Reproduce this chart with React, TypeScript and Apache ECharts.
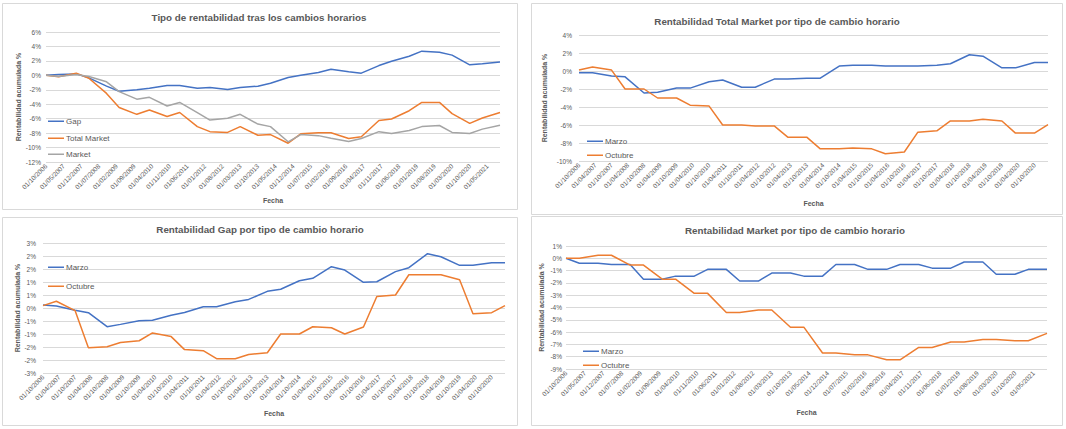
import React, { useEffect, useRef } from "react";
import * as echarts from "echarts";

// ---------- data ----------
const datesLong = [
  "2006-10", "2007-03", "2007-10", "2008-03", "2008-10", "2009-03", "2009-10", "2010-03",
  "2010-10", "2011-03", "2011-10", "2012-03", "2012-10", "2013-03", "2013-10", "2014-03",
  "2014-10", "2015-03", "2015-10", "2016-03", "2016-10", "2017-03", "2017-10", "2018-03",
  "2018-10", "2019-03", "2019-10", "2020-03", "2020-10", "2021-03", "2021-10",
];
const datesShort = [
  "2006-10", "2007-03", "2007-10", "2008-03", "2008-10", "2009-03", "2009-10", "2010-03",
  "2010-10", "2011-03", "2011-10", "2012-03", "2012-10", "2013-03", "2013-10", "2014-03",
  "2014-10", "2015-03", "2015-10", "2016-03", "2016-10", "2017-03", "2017-10", "2018-03",
  "2018-10", "2019-03", "2019-10", "2020-03", "2020-10", "2021-03",
];

// Chart 1: Tipo de rentabilidad tras los cambios horarios
const gapAll = [0, 0.1, 0.2, -0.35, -1.5, -2.2, -2.0, -1.8, -1.4, -1.4, -1.8, -1.7, -1.95, -1.7, -1.5, -1.1, -0.3, 0, 0.4, 0.85, 0.5, 0.3, 1.35, 1.95, 2.65, 3.35, 3.2, 2.8, 1.45, 1.6, 1.85];
const totalAll = [0, -0.2, 0.3, -0.4, -2.5, -4.45, -5.4, -4.8, -5.7, -5.15, -7.1, -7.8, -7.9, -7.1, -8.3, -8.2, -9.4, -8.1, -7.95, -7.95, -8.75, -8.5, -6.25, -6.05, -4.9, -3.75, -3.75, -5.3, -6.65, -5.9, -5.15];
const marketAll = [0, -0.15, 0.1, -0.15, -0.9, -2.25, -3.3, -3.05, -4.25, -3.75, -5.15, -6.2, -5.95, -5.4, -6.75, -7.1, -9.2, -8.2, -8.35, -8.7, -9.15, -8.75, -7.8, -8.05, -7.65, -7.1, -6.95, -7.9, -8.05, -7.45, -6.9];

// Chart 2: Total Market por tipo de cambio
const tmMarzo = [-0.2, -0.2, -0.55, -0.65, -2.45, -2.35, -1.9, -1.9, -1.2, -1.0, -1.8, -1.8, -0.9, -0.9, -0.8, -0.8, 0.55, 0.65, 0.65, 0.55, 0.55, 0.55, 0.65, 0.8, 1.8, 1.65, 0.35, 0.35, 0.95, 0.95];
const tmOctubre = [0.1, 0.45, 0.1, -2.0, -2.0, -3.0, -3.0, -3.8, -3.9, -6.0, -6.0, -6.1, -6.1, -7.35, -7.35, -8.65, -8.65, -8.55, -8.65, -9.2, -9.0, -6.8, -6.65, -5.55, -5.55, -5.35, -5.55, -6.9, -6.9, -5.95];

// Chart 3: Gap por tipo de cambio
const gapMarzo = [0.12, 0.08, -0.09, -0.18, -0.72, -0.63, -0.49, -0.47, -0.28, -0.17, 0.05, 0.05, 0.24, 0.33, 0.64, 0.72, 1.05, 1.14, 1.59, 1.46, 0.99, 1.01, 1.4, 1.55, 2.09, 1.97, 1.64, 1.64, 1.74, 1.74];
const gapOctubre = [0.09, 0.26, -0.1, -1.53, -1.49, -1.33, -1.26, -0.96, -1.1, -1.6, -1.64, -1.95, -1.95, -1.79, -1.72, -1.0, -1.0, -0.72, -0.76, -1.0, -0.73, 0.44, 0.5, 1.28, 1.28, 1.28, 1.09, -0.22, -0.18, 0.09];

// Chart 4: Market por tipo de cambio
const mkMarzo = [0, -0.4, -0.4, -0.5, -0.5, -1.7, -1.7, -1.45, -1.45, -0.9, -0.9, -1.85, -1.85, -1.2, -1.2, -1.45, -1.45, -0.5, -0.5, -0.9, -0.9, -0.5, -0.5, -0.8, -0.8, -0.3, -0.3, -1.3, -1.3, -0.9, -0.9];
const mkOctubre = [0, 0, 0.25, 0.25, -0.55, -0.55, -1.7, -1.7, -2.85, -2.85, -4.4, -4.4, -4.2, -4.2, -5.6, -5.6, -7.7, -7.7, -7.85, -7.85, -8.25, -8.25, -7.25, -7.25, -6.8, -6.8, -6.6, -6.6, -6.7, -6.7, -6.1];

const titles = [
  "Tipo de rentabilidad tras los cambios horarios",
  "Rentabilidad Total Market por tipo de cambio horario",
  "Rentabilidad Gap por tipo de cambio horario",
  "Rentabilidad Market por tipo de cambio horario",
];
const yAxisName = "Rentabilidad acumulada %";
const xAxisName = "Fecha";

// ---------- helpers ----------
const FONT = '"Liberation Sans", Arial, sans-serif';
const TXT = "#595959";
const GRID = "#d9d9d9";
const BLUE = "#4472C4";
const ORANGE = "#ED7D31";
const GRAY = "#A5A5A5";

function monthIndex(d: string) {
  const [y, m] = d.split("-").map(Number);
  return (y - 2006) * 12 + (m - 10);
}
function pts(dates: string[], vals: number[]) {
  return vals.map((v, i) => [monthIndex(dates[i]), v]);
}
function dateLabel(v: number, step: number) {
  if (Math.abs(v % step) > 1e-6) return "";
  const t = 2006 * 12 + 9 + Math.round(v);
  const y = Math.floor(t / 12);
  const m = (t % 12) + 1;
  return "01/" + (m < 10 ? "0" : "") + m + "/" + y;
}
function pctInt(v: number) {
  return Math.round(v) + "%";
}
function pctRoundAway(v: number) {
  const r = Math.sign(v) * Math.round(Math.abs(v) + 1e-9);
  return (r === 0 ? 0 : r) + "%";
}

function xAx(gridIndex: number, max: number, interval: number, nameGap: number) {
  return {
    type: "value",
    gridIndex,
    min: 0,
    max,
    interval,
    axisLine: { show: false },
    axisTick: { show: false },
    splitLine: { show: false },
    axisLabel: {
      rotate: 45,
      fontSize: 6.5,
      color: TXT,
      fontFamily: FONT,
      margin: 3,
      formatter: (v: number) => dateLabel(v, interval),
    },
    name: xAxisName,
    nameLocation: "middle",
    nameGap,
    nameTextStyle: { fontWeight: "bold", fontSize: 7, color: TXT, fontFamily: FONT },
  };
}
function yAx(gridIndex: number, min: number, max: number, interval: number, margin: number, nameGap: number, fmt: (v: number) => string) {
  return {
    type: "value",
    gridIndex,
    min,
    max,
    interval,
    axisLine: { show: false },
    axisTick: { show: false },
    splitLine: { lineStyle: { color: GRID, width: 1 } },
    axisLabel: { fontSize: 6.5, color: TXT, fontFamily: FONT, margin, formatter: fmt },
    name: yAxisName,
    nameLocation: "middle",
    nameRotate: 90,
    nameGap,
    nameTextStyle: { fontWeight: "bold", fontSize: 7, color: TXT, fontFamily: FONT },
  };
}
function line(name: string, idx: number, data: number[][], color: string) {
  return {
    type: "line",
    name,
    xAxisIndex: idx,
    yAxisIndex: idx,
    data,
    symbol: "none",
    lineStyle: { color, width: 1.5 },
    itemStyle: { color },
  };
}
function leg(name: string, color: string, left: number, yc: number) {
  return {
    data: [{ name, icon: "rect", itemStyle: { color } }],
    left,
    top: yc - 0.75,
    padding: 0,
    itemWidth: 16,
    itemHeight: 1.5,
    selectedMode: false,
    textStyle: { fontSize: 8, color: TXT, fontFamily: FONT, padding: [0, 0, 0, -3] },
  };
}
function panel(x: number, y: number, w: number, h: number) {
  return {
    type: "rect",
    z: -10,
    silent: true,
    shape: { x: x + 0.5, y: y + 0.5, width: w, height: h },
    style: { fill: "none", stroke: GRID, lineWidth: 1 },
  };
}
function titleText(text: string, x: number, y: number) {
  return {
    type: "text",
    x,
    y,
    style: {
      text,
      fill: TXT,
      font: 'bold 9.8px "Liberation Sans", Arial, sans-serif',
      align: "center",
      verticalAlign: "middle",
      textAlign: "center",
      textVerticalAlign: "middle",
    },
  };
}

export default function App() {
  const ref = useRef<HTMLDivElement>(null);
  useEffect(() => {
    if (!ref.current) return;
    const chart = echarts.init(ref.current, undefined, { renderer: "svg" });
    const option: any = {
      animation: false,
      backgroundColor: "#ffffff",
      textStyle: { fontFamily: FONT },
      graphic: [
        panel(2, 3, 515, 206),
        panel(531, 3, 531, 211),
        panel(2, 217, 515, 208),
        panel(531, 216, 531, 209),
        titleText(titles[0], 259, 17),
        titleText(titles[1], 777, 21),
        titleText(titles[2], 260, 229),
        titleText(titles[3], 795, 230),
      ],
      grid: [
        { left: 46, top: 32, width: 454, height: 130 },
        { left: 579, top: 35, width: 469, height: 126 },
        { left: 43, top: 243, width: 462, height: 130 },
        { left: 566, top: 246, width: 481, height: 123 },
      ],
      xAxis: [
        xAx(0, 180, 7, 35),
        xAx(1, 173, 6, 39),
        xAx(2, 173, 6, 37),
        xAx(3, 180, 7, 40),
      ],
      yAxis: [
        yAx(0, -12, 6, 2, 5, 24, pctInt),
        yAx(1, -10, 4, 2, 7, 31, pctInt),
        yAx(2, -2.5, 2.5, 0.5, 7, 21, pctRoundAway),
        yAx(3, -9, 1, 1, 4, 21, pctInt),
      ],
      legend: [
        leg("Gap", BLUE, 48, 118),
        leg("Total Market", ORANGE, 48, 135),
        leg("Market", GRAY, 48, 151),
        leg("Marzo", BLUE, 587, 138),
        leg("Octubre", ORANGE, 587, 152),
        leg("Marzo", BLUE, 48, 264),
        leg("Octubre", ORANGE, 48, 283),
        leg("Marzo", BLUE, 583, 348),
        leg("Octubre", ORANGE, 583, 362),
      ],
      series: [
        line("Gap", 0, pts(datesLong, gapAll), BLUE),
        line("Total Market", 0, pts(datesLong, totalAll), ORANGE),
        line("Market", 0, pts(datesLong, marketAll), GRAY),
        line("Marzo", 1, pts(datesShort, tmMarzo), BLUE),
        line("Octubre", 1, pts(datesShort, tmOctubre), ORANGE),
        line("Marzo", 2, pts(datesShort, gapMarzo), BLUE),
        line("Octubre", 2, pts(datesShort, gapOctubre), ORANGE),
        line("Marzo", 3, pts(datesLong, mkMarzo), BLUE),
        line("Octubre", 3, pts(datesLong, mkOctubre), ORANGE),
      ],
    };
    chart.setOption(option);
    return () => chart.dispose();
  }, []);
  return (
    <div
      ref={ref}
      style={{ position: "absolute", left: 0, top: 0, width: 1066, height: 429, background: "#fff" }}
    />
  );
}
